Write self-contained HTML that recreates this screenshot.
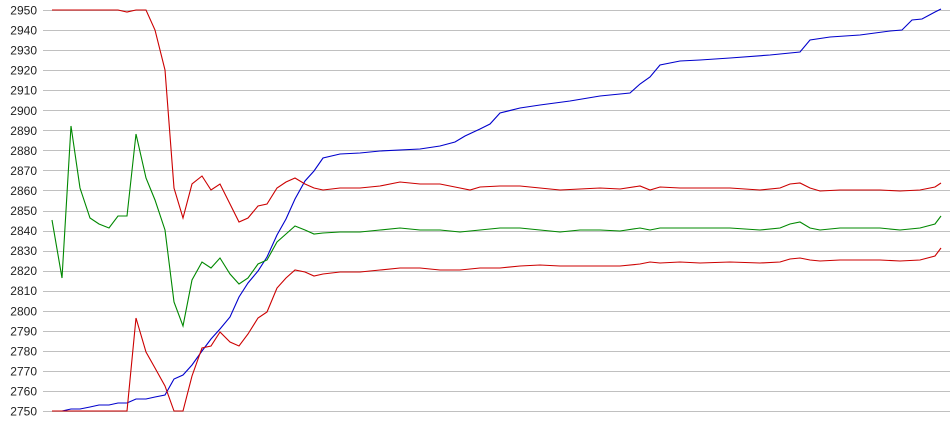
<!DOCTYPE html>
<html><head><style>
html,body{margin:0;padding:0;background:#fff;width:950px;height:435px;overflow:hidden}
svg text{font-family:"Liberation Sans",sans-serif;font-size:12px;fill:#222}
</style></head><body>
<svg width="950" height="435" xmlns="http://www.w3.org/2000/svg">
<g stroke="#c0c0c0" stroke-width="1" id="grid"></g>
<g id="labels"></g>
<g fill="none" stroke-width="1.1">
<polyline stroke="#0000cc" points="52,411 62,411 71,409 80,409 90,407 99,405 109,405 118,403 127,403 136,399 146,399 155,397 165,395 174,379 183,375 192,365 202,351 211,339 220,329 230,317 239,297 248,283 258,271 267,257 277,235 286,219 295,199 305,181 314,171 323,158 340,154 360,153 380,151 420,149 440,146 455,142 465,136 480,129 490,124 500,113 520,108 540,105 570,101 600,96 630,93 640,84 650,77 660,65 680,61 700,60 730,58 770,55 800,52 810,40 830,37 860,35 890,31 902,30 912,20 922,19 935,12 941,9"/>
<polyline stroke="#cc0000" points="52,10 118,10 127,12 136,10 146,10 155,30 165,70 174,188 183,218 192,184 202,176 211,190 220,184 230,204 239,222 248,218 258,206 267,204 277,188 286,182 295,178 305,184 314,188 323,190 340,188 360,188 380,186 400,182 420,184 440,184 460,188 470,190 480,187 500,186 520,186 540,188 560,190 580,189 600,188 620,189 640,186 650,190 660,187 680,188 700,188 730,188 760,190 780,188 790,184 800,183 810,188 820,191 840,190 880,190 900,191 920,190 935,187 941,183"/>
<polyline stroke="#008800" points="52,220 62,278 71,126 80,188 90,218 99,224 109,228 118,216 127,216 136,134 146,178 155,200 165,230 174,302 183,326 192,280 202,262 211,268 220,258 230,274 239,284 248,278 258,264 267,260 277,242 286,234 295,226 305,230 314,234 323,233 340,232 360,232 380,230 400,228 420,230 440,230 460,232 480,230 500,228 520,228 540,230 560,232 580,230 600,230 620,231 640,228 650,230 660,228 680,228 700,228 730,228 760,230 780,228 790,224 800,222 810,228 820,230 840,228 880,228 900,230 920,228 935,224 941,216"/>
<polyline stroke="#cc0000" points="52,411 127,411 136,318 146,352 155,368 165,386 174,411 183,411 192,376 202,348 211,346 220,332 230,342 239,346 248,334 258,318 267,312 277,288 286,278 295,270 305,272 314,276 323,274 340,272 360,272 380,270 400,268 420,268 440,270 460,270 480,268 500,268 520,266 540,265 560,266 580,266 600,266 620,266 640,264 650,262 660,263 680,262 700,263 730,262 760,263 780,262 790,259 800,258 810,260 820,261 840,260 880,260 900,261 920,260 935,256 941,248"/>
</g>
<script>
var g=document.getElementById('grid'),l=document.getElementById('labels'),ns='http://www.w3.org/2000/svg';
for(var i=0;i<=20;i++){var v=2950-i*10,y=10+i*20.05;
var ln=document.createElementNS(ns,'line');ln.setAttribute('x1',43);ln.setAttribute('x2',950);ln.setAttribute('y1',Math.round(y)+0.5);ln.setAttribute('y2',Math.round(y)+0.5);g.appendChild(ln);
var t=document.createElementNS(ns,'text');t.setAttribute('x',37);t.setAttribute('y',y+4.5);t.setAttribute('text-anchor','end');t.textContent=v;l.appendChild(t);}
</script>
</svg>
</body></html>
